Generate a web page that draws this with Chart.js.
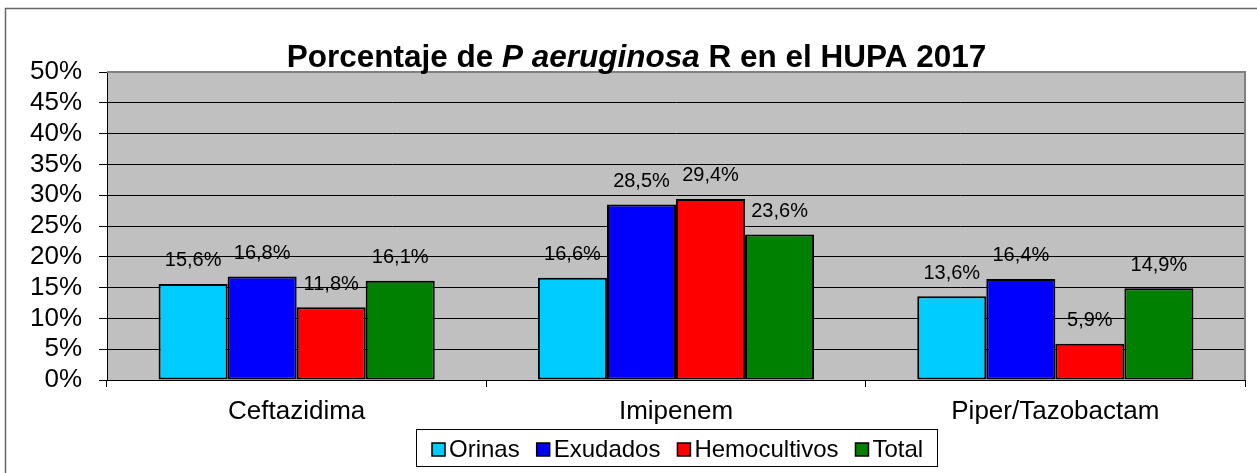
<!DOCTYPE html>
<html>
<head>
<meta charset="utf-8">
<script src="https://cdn.jsdelivr.net/npm/chart.js@4.4.1/dist/chart.umd.min.js"></script>
<style>
  html, body { margin: 0; padding: 0; background: #fff; }
</style>
</head>
<body>
<canvas id="c" width="1257" height="473"></canvas>
<script>
// data
const categories = ['Ceftazidima', 'Imipenem', 'Piper/Tazobactam'];
const orinas = [15.6, 16.6, 13.6];
const exudados = [16.8, 28.5, 16.4];
const hemocultivos = [11.8, 29.4, 5.9];
const total = [16.1, 23.6, 14.9];
const seriesNames = ['Orinas', 'Exudados', 'Hemocultivos', 'Total'];
const seriesColors = ['#00CCFF', '#0000FF', '#FF0000', '#008000'];
const yTicks = [0, 5, 10, 15, 20, 25, 30, 35, 40, 45, 50];

const FONT = '"Liberation Sans", Arial, sans-serif';

function fmt(v) {
    return v.toFixed(1).replace('.', ',') + '%';
}

// plot background + white page
const background = {
    id: 'background',
    beforeDraw(chart) {
        const { ctx, chartArea: a } = chart;
        ctx.save();
        ctx.fillStyle = '#fff';
        ctx.fillRect(0, 0, chart.width, chart.height);
        ctx.fillStyle = '#C0C0C0';
        ctx.fillRect(a.left, a.top, a.right - a.left, a.bottom - a.top);
        ctx.restore();
    }
};

// value labels above each bar
const valueLabels = {
    id: 'valueLabels',
    afterDatasetsDraw(chart) {
        const ctx = chart.ctx;
        ctx.save();
        ctx.font = '20px ' + FONT;
        ctx.fillStyle = '#000';
        ctx.textAlign = 'center';
        ctx.textBaseline = 'middle';
        chart.data.datasets.forEach((ds, i) => {
            chart.getDatasetMeta(i).data.forEach((bar, j) => {
                ctx.fillText(fmt(ds.data[j]), bar.x, bar.y - 23);
            });
        });
        ctx.restore();
    }
};

// frame, title and boxed legend
const decorations = {
    id: 'decorations',
    afterDraw(chart) {
        const { ctx, chartArea: a } = chart;
        ctx.save();

        // plot border (top / right, gray)
        ctx.strokeStyle = '#808080';
        ctx.lineWidth = 2;
        ctx.beginPath();
        ctx.moveTo(a.left, a.top);
        ctx.lineTo(a.right, a.top);
        ctx.lineTo(a.right, a.bottom);
        ctx.stroke();

        // outer chart frame
        ctx.strokeStyle = '#666';
        ctx.lineWidth = 1.5;
        ctx.strokeRect(5.5, 8.5, 1280, 500);

        // title with italic species name
        const parts = [
            ['bold 31.5px ' + FONT, 'Porcentaje de '],
            ['italic bold 31.5px ' + FONT, 'P aeruginosa'],
            ['bold 31.5px ' + FONT, ' R en el HUPA 2017']
        ];
        let w = 0;
        parts.forEach(p => { ctx.font = p[0]; w += ctx.measureText(p[1]).width; });
        let x = 636.5 - w / 2;
        ctx.fillStyle = '#000';
        ctx.textAlign = 'left';
        ctx.textBaseline = 'alphabetic';
        parts.forEach(p => {
            ctx.font = p[0];
            ctx.fillText(p[1], x, 67);
            x += ctx.measureText(p[1]).width;
        });

        // legend
        ctx.strokeStyle = '#000';
        ctx.lineWidth = 1;
        ctx.strokeRect(416.5, 429.5, 521, 37);
        ctx.font = '24px ' + FONT;
        let lx = 432;
        seriesNames.forEach((name, i) => {
            ctx.fillStyle = seriesColors[i];
            ctx.fillRect(lx, 443, 13, 13);
            ctx.lineWidth = 1.5;
            ctx.strokeRect(lx, 443, 13, 13);
            ctx.fillStyle = '#000';
            ctx.fillText(name, lx + 17, 457);
            lx += 17 + ctx.measureText(name).width + 17;
        });

        ctx.restore();
    }
};

const ctx = document.getElementById('c').getContext('2d');

new Chart(ctx, {
    type: 'bar',
    data: {
        labels: categories,
        datasets: [orinas, exudados, hemocultivos, total].map((d, i) => ({
            label: seriesNames[i],
            data: d,
            backgroundColor: seriesColors[i],
            borderColor: '#000',
            borderWidth: 2,
            borderSkipped: false,
            barPercentage: 1,
            categoryPercentage: 0.728
        }))
    },
    options: {
        responsive: false,
        animation: false,
        layout: { padding: { top: 72, right: 12, left: 0, bottom: 0 } },
        plugins: {
            legend: { display: false },
            title: { display: false },
            tooltip: { enabled: false }
        },
        scales: {
            x: {
                offset: true,
                grid: { offset: true, drawOnChartArea: false, drawTicks: true, tickLength: 7, color: '#000', lineWidth: 1 },
                border: { display: true, color: '#000', width: 1 },
                ticks: { font: { size: 26, family: FONT }, color: '#000', padding: 9, maxRotation: 0 },
                afterFit(s) { s.height = 93; }
            },
            y: {
                min: 0,
                max: 50,
                afterBuildTicks(s) { s.ticks = yTicks.map(v => ({ value: v })); },
                ticks: { autoSkip: false, callback: v => v + '%', font: { size: 26, family: FONT }, color: '#000', padding: 17 },
                grid: { color: '#000', lineWidth: 1, tickLength: 8 },
                border: { display: true, color: '#000', width: 1 },
                afterFit(s) { s.width = 107; }
            }
        }
    },
    plugins: [background, valueLabels, decorations]
});
</script>
</body>
</html>
